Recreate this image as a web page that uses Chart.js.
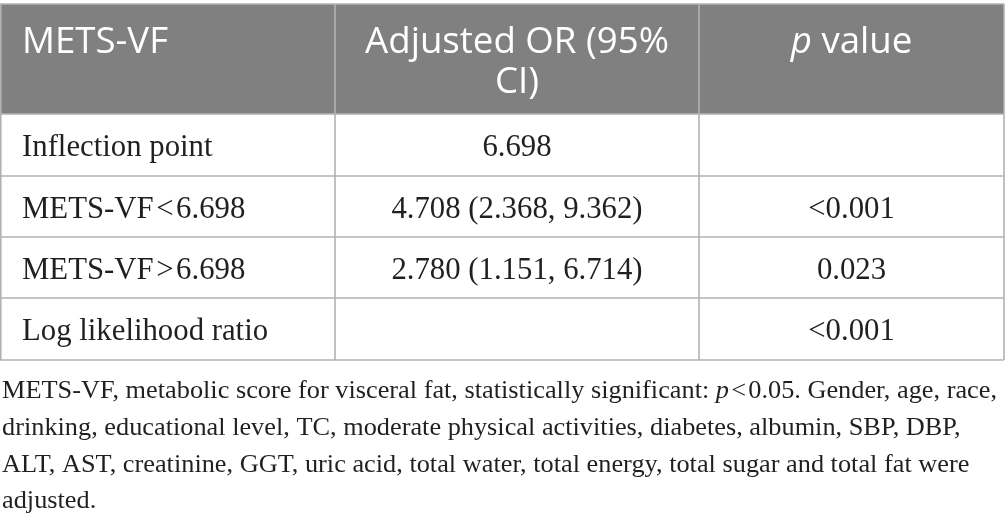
<!DOCTYPE html>
<html>
<head>
<meta charset="utf-8">
<script src="https://cdn.jsdelivr.net/npm/chart.js@4"></script>
<style>
  html, body { margin: 0; padding: 0; background: #ffffff; }
  #wrap { width: 1005px; height: 525px; }
</style>
</head>
<body>
<div id="wrap"><canvas id="c" width="1005" height="525"></canvas></div>
<script>
// ---- data ----
const columnHeaders = ['METS-VF', 'Adjusted OR (95% CI)', '_p_ value'];
const rowLabels = ['Inflection point', 'METS-VF\u200A<\u200A6.698', 'METS-VF\u200A>\u200A6.698', 'Log likelihood ratio'];
const orValues = ['6.698', '4.708 (2.368, 9.362)', '2.780 (1.151, 6.714)', ''];
const pValues = ['', '<0.001', '0.023', '<0.001'];
const footnoteLines = [
  'METS-VF, metabolic score for visceral fat, statistically significant: _p_\u200A<\u200A0.05. Gender, age, race,',
  'drinking, educational level, TC, moderate physical activities, diabetes, albumin, SBP, DBP,',
  'ALT, AST, creatinine, GGT, uric acid, total water, total energy, total sugar and total fat were',
  'adjusted.'
];

// ---- layout (table units on the chart's scales) ----
const colEdges = [0, 335, 699, 1004];
const rowEdges = [4, 114, 176, 237, 298, 360];
const footBaselines = [398, 435, 471.5, 508];

const SANS = '"Open Sans", "Noto Sans", sans-serif';
const SERIF = '"Liberation Serif", "DejaVu Serif", serif';

function segs(text) {
  const parts = text.split('_');
  return parts.map((t, i) => ({ t, italic: i % 2 === 1 })).filter(s => s.t.length);
}
function segWidth(ctx, text, size, family) {
  let w = 0;
  for (const s of segs(text)) {
    ctx.font = (s.italic ? 'italic ' : '') + size + 'px ' + family;
    w += ctx.measureText(s.t).width;
  }
  return w;
}
function drawSegs(ctx, text, x, y, size, family, align, sx) {
  sx = sx || 1;
  const total = segWidth(ctx, text, size, family) * sx;
  const start = align === 'center' ? x - total / 2 : x;
  ctx.save();
  ctx.translate(start, y);
  ctx.scale(sx, 1);
  ctx.textAlign = 'left';
  let cx = 0;
  for (const s of segs(text)) {
    ctx.font = (s.italic ? 'italic ' : '') + size + 'px ' + family;
    ctx.fillText(s.t, cx, 0);
    cx += ctx.measureText(s.t).width;
  }
  ctx.restore();
}
function fit(ctx, text, family, target) {
  return 100 * target / segWidth(ctx, text, 100, family);
}

const tablePlugin = {
  id: 'tablePlugin',
  afterDraw(chart) {
    const ctx = chart.ctx;
    const xs = chart.scales.x, ys = chart.scales.y;
    const X = v => xs.getPixelForValue(v);
    const Y = v => ys.getPixelForValue(v);
    ctx.save();

    const headerSize = fit(ctx, 'Adjusted OR (95%', SANS, 304);
    const bodySize = (fit(ctx, 'Inflection point', SERIF, 181) + fit(ctx, '4.708 (2.368, 9.362)', SERIF, 264)) / 2;
    const footFit = Math.min(fit(ctx, footnoteLines[2], SERIF, 973), fit(ctx, footnoteLines[0], SERIF, 995));
    const footSize = 26;
    const footSx = footFit / footSize;

    // header background
    ctx.fillStyle = '#808080';
    ctx.fillRect(X(colEdges[0]), Y(rowEdges[0]), X(colEdges[3]) - X(colEdges[0]), Y(rowEdges[1]) - Y(rowEdges[0]));

    // grid lines
    ctx.strokeStyle = '#b2b2b2';
    ctx.lineWidth = 1.6;
    for (const r of rowEdges) {
      ctx.beginPath();
      ctx.moveTo(X(colEdges[0]), Y(r));
      ctx.lineTo(X(colEdges[3]), Y(r));
      ctx.stroke();
    }
    for (const c of colEdges) {
      ctx.beginPath();
      ctx.moveTo(X(c) + (c === 0 ? 0.8 : 0), Y(rowEdges[0]));
      ctx.lineTo(X(c) + (c === 0 ? 0.8 : 0), Y(rowEdges[rowEdges.length - 1]));
      ctx.stroke();
    }

    // header text
    ctx.fillStyle = '#ffffff';
    ctx.textBaseline = 'alphabetic';
    const hb1 = Y(53), hb2 = Y(93);
    drawSegs(ctx, columnHeaders[0], X(colEdges[0]) + 22, hb1, headerSize, SANS, 'left');
    const c2 = (X(colEdges[1]) + X(colEdges[2])) / 2;
    const parts = columnHeaders[1].split(' ');
    drawSegs(ctx, parts.slice(0, 3).join(' '), c2, hb1, headerSize, SANS, 'center');
    drawSegs(ctx, parts.slice(3).join(' '), c2, hb2, headerSize, SANS, 'center');
    const c3 = (X(colEdges[2]) + X(colEdges[3])) / 2;
    drawSegs(ctx, columnHeaders[2], c3, hb1, headerSize, SANS, 'center');

    // body text
    ctx.fillStyle = '#231f20';
    for (let i = 0; i < rowLabels.length; i++) {
      const mid = (Y(rowEdges[i + 1]) + Y(rowEdges[i + 2])) / 2;
      const base = mid + bodySize * 0.36;
      drawSegs(ctx, rowLabels[i], X(colEdges[0]) + 22, base, bodySize, SERIF, 'left');
      if (orValues[i]) drawSegs(ctx, orValues[i], c2, base, bodySize, SERIF, 'center');
      if (pValues[i]) drawSegs(ctx, pValues[i], c3, base, bodySize, SERIF, 'center');
    }

    // footnote
    for (let i = 0; i < footnoteLines.length; i++) {
      drawSegs(ctx, footnoteLines[i], X(2), Y(footBaselines[i]), footSize, SERIF, 'left', footSx);
    }
    ctx.restore();
  }
};

new Chart(document.getElementById('c'), {
  type: 'scatter',
  data: { datasets: [{ data: [] }] },
  options: {
    responsive: false,
    animation: false,
    devicePixelRatio: 1,
    layout: { padding: 0 },
    plugins: { legend: { display: false }, tooltip: { enabled: false } },
    scales: {
      x: { type: 'linear', min: 0, max: 1005, display: false },
      y: { type: 'linear', min: 0, max: 525, reverse: true, display: false }
    }
  },
  plugins: [tablePlugin]
});
</script>
</body>
</html>
